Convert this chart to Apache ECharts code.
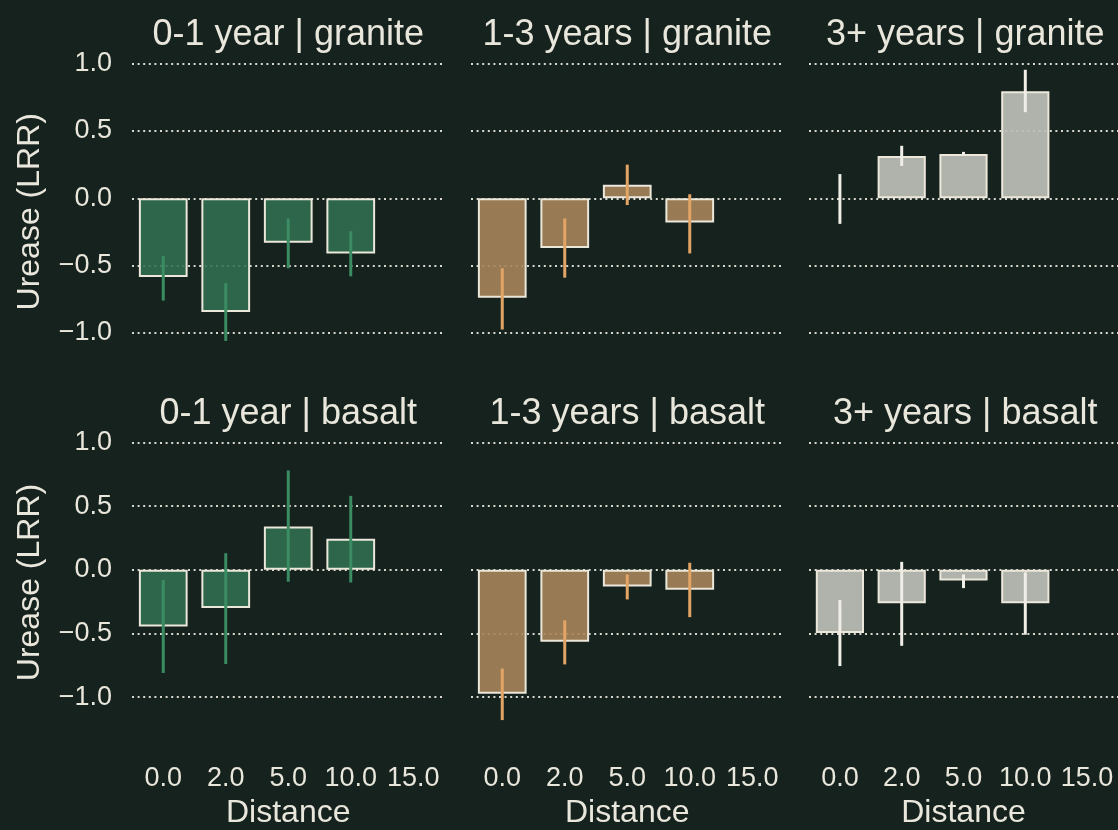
<!doctype html>
<html>
<head>
<meta charset="UTF-8">
<title>Urease LRR by distance</title>
<script src="https://cdn.jsdelivr.net/npm/echarts@6/dist/echarts.min.js"></script>
<style>
  html, body { margin: 0; padding: 0; background: #15221e; }
  #main { width: 1118px; height: 830px; }
</style>
</head>
<body>
<div id="main"></div>
<script>
// categories
var distances = ['0.0', '2.0', '5.0', '10.0', '15.0'];
var ages = ['0-1 year', '1-3 years', '3+ years'];
var rocks = ['granite', 'basalt'];

// means (LRR) for distances 0, 2, 5, 10 ; order: age x rock
var mean_01_granite = [-0.585, -0.845, -0.33, -0.41];
var low_01_granite  = [-0.76, -1.06, -0.52, -0.58];
var high_01_granite = [-0.43, -0.63, -0.15, -0.245];

var mean_13_granite = [-0.74, -0.37, 0.10, -0.18];
var low_13_granite  = [-0.975, -0.59, -0.05, -0.41];
var high_13_granite = [-0.52, -0.15, 0.25, 0.03];

var mean_3p_granite = [0.0, 0.315, 0.33, 0.795];
var low_3p_granite  = [-0.19, 0.24, 0.32, 0.64];
var high_3p_granite = [0.18, 0.39, 0.345, 0.955];

var mean_01_basalt = [-0.446, -0.30, 0.34, 0.243];
var low_01_basalt  = [-0.81, -0.74, -0.094, -0.10];
var high_01_basalt = [-0.08, 0.13, 0.78, 0.58];

var mean_13_basalt = [-0.974, -0.565, -0.131, -0.156];
var low_13_basalt  = [-1.18, -0.743, -0.233, -0.372];
var high_13_basalt = [-0.776, -0.397, -0.037, 0.055];

var mean_3p_basalt = [-0.496, -0.263, -0.084, -0.263];
var low_3p_basalt  = [-0.756, -0.597, -0.144, -0.51];
var high_3p_basalt = [-0.238, 0.062, -0.037, -0.02];

var panels = [
  [mean_01_granite, low_01_granite, high_01_granite],
  [mean_13_granite, low_13_granite, high_13_granite],
  [mean_3p_granite, low_3p_granite, high_3p_granite],
  [mean_01_basalt, low_01_basalt, high_01_basalt],
  [mean_13_basalt, low_13_basalt, high_13_basalt],
  [mean_3p_basalt, low_3p_basalt, high_3p_basalt]
];

var barColors = ['rgba(50,112,82,0.88)', 'rgba(166,133,90,0.9)', 'rgba(190,192,185,0.92)'];
var errColors = ['#3b8c62', '#e3a565', '#f0eee6'];
var textColor = '#e9e6dc';
var font = 'Liberation Sans, Arial, sans-serif';

var lefts = [132, 471, 809];
var tops = [57, 436];
var gw = 312.5, gh = 309.5;

var grids = [], xAxes = [], yAxes = [], series = [], titles = [];

for (var r = 0; r < 2; r++) {
  for (var c = 0; c < 3; c++) {
    var i = r * 3 + c;
    var p = panels[i];
    grids.push({left: lefts[c], top: tops[r], width: gw, height: gh});
    titles.push({
      text: ages[c] + ' | ' + rocks[r],
      left: lefts[c] + gw / 2 - 5,
      top: tops[r] - 45,
      textAlign: 'center',
      textStyle: {color: textColor, fontFamily: font, fontSize: 36, fontWeight: 'normal'}
    });
    xAxes.push({
      type: 'category',
      gridIndex: i,
      data: distances,
      axisLine: {show: false},
      axisTick: {show: false},
      axisLabel: {show: r === 1, color: textColor, fontFamily: font, fontSize: 27, margin: 36, interval: 0},
      name: r === 1 ? 'Distance' : '',
      nameLocation: 'middle',
      nameGap: 68,
      nameTextStyle: {color: textColor, fontFamily: font, fontSize: 32}
    });
    yAxes.push({
      type: 'value',
      gridIndex: i,
      min: -1.25,
      max: 1.05,
      interval: 0.25,
      axisLine: {show: false},
      axisTick: {show: false},
      axisLabel: {
        show: c === 0, color: textColor, fontFamily: font, fontSize: 27, margin: 20,
        formatter: function (v) {
          if (Math.abs(v * 2 - Math.round(v * 2)) > 1e-6 || v > 1.01) return '';
          return v.toFixed(1).replace('-', '\u2212');
        }
      },
      splitLine: {
        show: true,
        lineStyle: {color: ['transparent', '#d9d8cf'], type: [2, 3.6], width: 2}
      },
      name: c === 0 ? 'Urease (LRR)' : '',
      nameLocation: 'middle',
      nameGap: 86,
      nameTextStyle: {color: textColor, fontFamily: font, fontSize: 32}
    });
    var barData = p[0].map(function (v) {
      if (Math.abs(v) < 0.005) return {value: v, itemStyle: {borderWidth: 0}};
      return v;
    });
    series.push({
      type: 'bar',
      xAxisIndex: i,
      yAxisIndex: i,
      data: barData,
      barWidth: '78%',
      itemStyle: {color: barColors[c], borderColor: '#ebe7da', borderWidth: 2},
      z: 2
    });
    var errData = p[1].map(function (lo, k) { return [k, lo, p[2][k]]; });
    series.push({
      type: 'custom',
      xAxisIndex: i,
      yAxisIndex: i,
      data: errData,
      z: 5,
      renderItem: (function (col) {
        return function (params, api) {
          var a = api.coord([api.value(0), api.value(1)]);
          var b = api.coord([api.value(0), api.value(2)]);
          return {
            type: 'line',
            shape: {x1: a[0], y1: a[1], x2: b[0], y2: b[1]},
            style: {stroke: col, lineWidth: 3}
          };
        };
      })(errColors[c])
    });
  }
}

var myChart = echarts.init(document.getElementById('main'));
myChart.setOption({
  backgroundColor: '#15221e',
  animation: false,
  title: titles,
  grid: grids,
  xAxis: xAxes,
  yAxis: yAxes,
  series: series
});
</script>
</body>
</html>
